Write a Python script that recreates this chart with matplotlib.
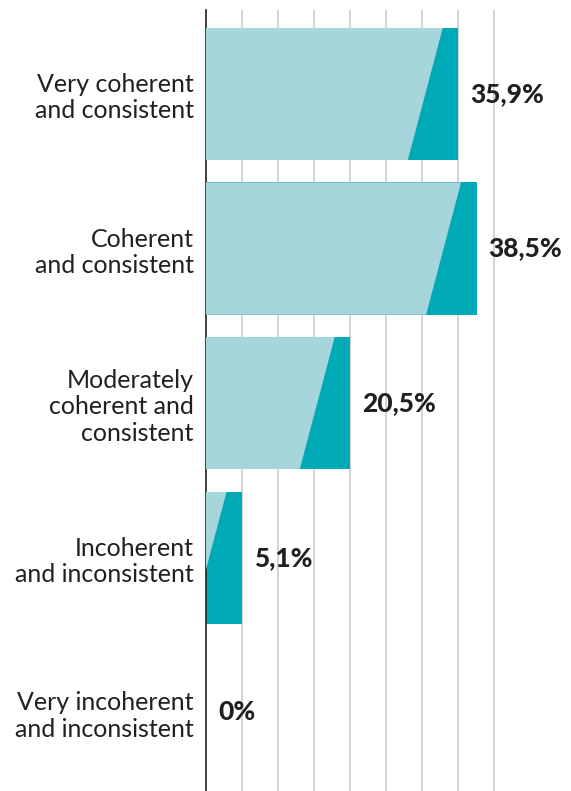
import matplotlib
matplotlib.use("Agg")
import matplotlib.pyplot as plt
from matplotlib.patches import Polygon, Rectangle
import numpy as np

categories = [
    "Very coherent\nand consistent",
    "Coherent\nand consistent",
    "Moderately\ncoherent and\nconsistent",
    "Incoherent\nand inconsistent",
    "Very incoherent\nand inconsistent",
]
values = [35.9, 38.5, 20.5, 5.1, 0.0]

light = "#a6d5dc"
dark = "#00a9b6"
ink = "#231f20"
grid_col = "#c8c8c8"

# one gridline every 2 respondents out of 39
grid_step = 2 / 39 * 100
px_per_pct = 36 / grid_step
slant_top = 15.5 / px_per_pct
slant_bottom = 50.5 / px_per_pct
bar_h = 0.856

plt.rcParams["font.family"] = ["Lato", "DejaVu Sans"]

fig = plt.figure(figsize=(5.71, 7.91), dpi=100)
left = 206.3 / 571
ax = fig.add_axes([left, 0, 1 - left, 1 - 10 / 791])
ax.set_xlim(0, (571 - 206.3) / px_per_pct)
ax.set_ylim(4.508, -0.543)

for i, v in enumerate(values):
    if v <= 0:
        continue
    y0, y1 = i - bar_h / 2, i + bar_h / 2
    rect = Rectangle((0, y0), v, bar_h, facecolor=dark, edgecolor="none", zorder=2)
    ax.add_patch(rect)
    poly = Polygon([(-100, y0), (v - slant_top, y0), (v - slant_bottom, y1), (-100, y1)],
                   closed=True, facecolor=light, edgecolor="none", zorder=3)
    ax.add_patch(poly)
    poly.set_clip_path(rect)

for i, v in enumerate(values):
    txt = (f"{v:.1f}".replace(".", ",") if v else "0") + "%"
    ax.annotate(txt, xy=(v, i), xytext=(8.5, 0), textcoords="offset points",
                va="center", ha="left", fontsize=19, fontweight="black", color=ink, zorder=5)

ax.set_xticks(np.arange(1, 9) * grid_step)
ax.xaxis.grid(True, color=grid_col, linewidth=1.1)
ax.set_axisbelow(True)
ax.tick_params(axis="x", length=0, labelbottom=False)

ax.set_yticks(range(len(categories)))
ax.set_yticklabels(categories, fontsize=18, color=ink, linespacing=1.17)
ax.tick_params(axis="y", length=0, pad=9)

for s in ["top", "right", "bottom"]:
    ax.spines[s].set_visible(False)
ax.spines["left"].set_color(ink)
ax.spines["left"].set_linewidth(1.2)

fig.savefig("out.png", dpi=100)
